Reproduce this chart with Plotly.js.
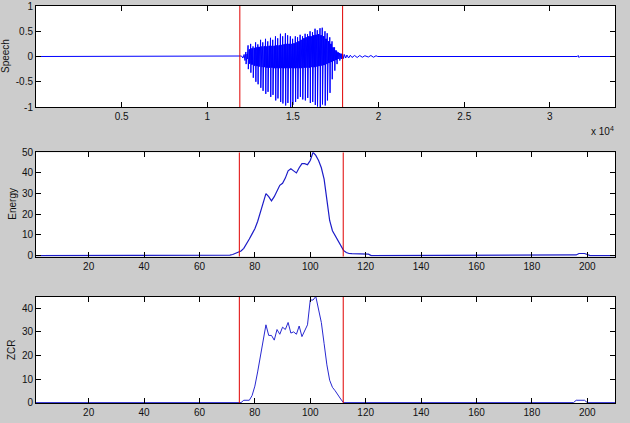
<!DOCTYPE html>
<html>
<head>
<meta charset="utf-8">
<script src="https://cdn.plot.ly/plotly-3.0.1.min.js"></script>
<style>
html,body{margin:0;padding:0;background:#cccccc;}
#chart{width:630px;height:423px;}
</style>
</head>
<body>
<div id="chart"></div>
<script>
// ---------------- data ----------------
// Speech waveform (sample index, amplitude)
const speechLength = 33800;
const onsetSample = [12000, 12080, 12150, 12200];
const onsetAmp    = [0.01, -0.03, 0.04, -0.08];
const pulseSample = [12250,12380,12530,12670,12820,12950,13110,13240,13400,13530,
                     13690,13820,13980,14110,14270,14400,14560,14690,14850,14980,
                     15140,15270,15420,15560,15710,15850,16000,16140,16290,16420,
                     16580,16710,16870,17000,17150,17280,17430,17560,17720];
const pulseHigh   = [0.09,0.22,0.25,0.2,0.28,0.24,0.33,0.28,0.35,0.3,
                     0.37,0.33,0.4,0.36,0.45,0.4,0.46,0.42,0.4,0.35,
                     0.4,0.38,0.43,0.4,0.45,0.44,0.5,0.48,0.55,0.52,
                     0.56,0.57,0.5,0.46,0.38,0.3,0.18,0.1,0.07];
const pulseLow    = [-0.15,-0.25,-0.32,-0.42,-0.5,-0.55,-0.62,-0.68,-0.74,-0.7,
                     -0.8,-0.76,-0.87,-0.83,-0.9,-0.93,-0.97,-0.92,-1.0,-0.96,
                     -0.9,-0.84,-0.8,-0.85,-0.87,-0.82,-0.92,-0.9,-0.96,-0.99,
                     -1.0,-0.95,-0.97,-0.87,-0.72,-0.45,-0.28,-0.15,-0.08];
const coreHigh    = [0.05,0.14,0.16,0.17,0.18,0.19,0.2,0.2,0.2,0.21,
                     0.21,0.21,0.22,0.22,0.23,0.24,0.25,0.25,0.25,0.26,
                     0.28,0.3,0.33,0.36,0.38,0.4,0.4,0.42,0.43,0.44,
                     0.42,0.4,0.35,0.3,0.25,0.18,0.12,0.08,0.05];
const coreLow     = [-0.05,-0.14,-0.16,-0.18,-0.19,-0.2,-0.21,-0.21,-0.22,-0.22,
                     -0.22,-0.23,-0.23,-0.23,-0.23,-0.23,-0.23,-0.23,-0.23,-0.23,
                     -0.23,-0.23,-0.23,-0.22,-0.22,-0.22,-0.21,-0.21,-0.2,-0.19,
                     -0.18,-0.17,-0.15,-0.13,-0.11,-0.09,-0.07,-0.05,-0.04];
const tailSample  = [17800,17850,17900,17950,18000,18080,18150,18250,18350,18450,
                     18600,18750,18900,19050,19200,19400,19550,19700,19850,19950];
const tailAmp     = [0.06,-0.05,0.05,-0.04,0.04,-0.03,0.03,-0.03,0.025,-0.02,
                     0.02,-0.02,0.02,-0.015,0.015,-0.01,0.02,-0.015,0.015,0];
const blipSample  = [31650, 31700, 31750];
const blipAmp     = [0.02, -0.02, 0];
const speechBounds = [11900, 17900];

// Short-time energy per frame
const energyFrame = [1,70,71,72,73,74,75,76,77,78,79,80,81,82,83,84,85,86,87,88,89,90,
                     91,92,93,94,95,96,97,98,99,100,101,102,103,104,105,106,107,108,109,110,
                     111,112,113,114,115,116,117,118,119,120,121,122,195,196,197,198,199,200,201,210];
const energyValue = [0,0,0.2,0.5,1.0,1.5,2.2,3.5,5.5,8,10.5,13,16.5,21,25.5,30,28.5,26.5,28.5,31.5,34,35,
                     37.5,41,42,41,40,42.5,44.5,44.5,44,46,50,48.5,46,42.5,37,27,17,12,9.5,7,
                     4.5,2.5,1.5,1.0,0.9,0.9,0.8,0.8,0.8,0.8,0.7,0,0,0.3,1,1,1,0.5,0,0];

// Zero-crossing rate per frame
const zcrFrame = [1,75,76,77,78,79,80,81,82,83,84,85,86,87,88,89,90,91,92,93,94,95,96,97,98,99,
                  100,101,102,103,104,105,106,107,108,109,110,111,112,195,196,197,198,199,200,210];
const zcrValue = [0,0,1,1,1,3,7,13,19.5,26,33,28.5,28.5,26.5,31,29,32,31,34,29.5,30,29,32.5,28,30.5,33,
                  43.5,43.5,45,40,34,25,16,9.5,6.5,5,3,1.5,0,0,1,1,1,1,0,0];
const frameBounds = [74.4, 111.9];

// Tick labels
const speechTickVals = [5000,10000,15000,20000,25000,30000];
const speechTickText = ['0.5','1','1.5','2','2.5','3'];
const ampTickVals = [-1,-0.5,0,0.5,1];
const ampTickText = ['-1','-0.5','0','0.5','1'];
const frameTicks = [20,40,60,80,100,120,140,160,180,200];

// ---------------- build speech trace ----------------
const sx = [1], sy = [0];
onsetSample.forEach((s,i)=>{sx.push(s); sy.push(onsetAmp[i]);});
pulseSample.forEach((p,i)=>{
  sx.push(p); sy.push(pulseHigh[i]);
  sx.push(p+15); sy.push(pulseLow[i]);
  for (let k=0;k<3;k++){
    sx.push(p+40+k*30); sy.push(coreHigh[i]);
    sx.push(p+55+k*30); sy.push(coreLow[i]);
  }
});
tailSample.forEach((s,i)=>{sx.push(s); sy.push(tailAmp[i]);});
sx.push(31600); sy.push(0);
blipSample.forEach((s,i)=>{sx.push(s); sy.push(blipAmp[i]);});
sx.push(speechLength); sy.push(0);

const blue = '#0000ff';
const red = '#e00000';
const font = {family:'Liberation Sans, Arial, sans-serif', size:10, color:'#111111'};

function vline(x, xa, ya, y0, y1){
  return {x:[x,x], y:[y0,y1], xaxis:xa, yaxis:ya, mode:'lines',
          line:{color:red, width:1}, hoverinfo:'skip', showlegend:false};
}

const traces = [
  {x:sx, y:sy, xaxis:'x', yaxis:'y', mode:'lines', line:{color:blue, width:1}, showlegend:false},
  vline(speechBounds[0],'x','y',-1,1), vline(speechBounds[1],'x','y',-1,1),
  {x:energyFrame, y:energyValue, xaxis:'x2', yaxis:'y2', mode:'lines', line:{color:'#1c1cc8', width:1.2}, showlegend:false},
  vline(frameBounds[0],'x2','y2',-1,50), vline(frameBounds[1],'x2','y2',-1,50),
  {x:zcrFrame, y:zcrValue, xaxis:'x3', yaxis:'y3', mode:'lines', line:{color:'#2828d0', width:1}, showlegend:false},
  vline(frameBounds[0],'x3','y3',-1,45), vline(frameBounds[1],'x3','y3',-1,45)
];

const W=630, H=423;
const xd = [36/W, 615/W];
function yd(top,bottom){ return [1-bottom/H, 1-top/H]; }
const axBase = {showline:true, linecolor:'#000', linewidth:1, mirror:'ticks', ticks:'inside',
  ticklen:5, tickcolor:'#000', tickwidth:1, showgrid:false, zeroline:false, tickfont:font, fixedrange:true};

const layout = {
  width:W, height:H, margin:{l:0,r:0,t:0,b:0},
  paper_bgcolor:'#cccccc', plot_bgcolor:'#ffffff',
  font:font, showlegend:false,
  xaxis: Object.assign({}, axBase, {domain:xd, anchor:'y', range:[1,speechLength],
          tickmode:'array', tickvals:speechTickVals, ticktext:speechTickText}),
  yaxis: Object.assign({}, axBase, {domain:yd(6,107), anchor:'x', range:[-1,1],
          tickmode:'array', tickvals:ampTickVals, ticktext:ampTickText}),
  xaxis2: Object.assign({}, axBase, {domain:xd, anchor:'y2', range:[1,210],
          tickmode:'array', tickvals:frameTicks}),
  yaxis2: Object.assign({}, axBase, {domain:yd(152.3,256.6), anchor:'x2', range:[-0.5,50],
          tickmode:'array', tickvals:[0,10,20,30,40,50]}),
  xaxis3: Object.assign({}, axBase, {domain:xd, anchor:'y3', range:[1,210],
          tickmode:'array', tickvals:frameTicks}),
  yaxis3: Object.assign({}, axBase, {domain:yd(297,403.2), anchor:'x3', range:[-0.25,44.8],
          tickmode:'array', tickvals:[0,10,20,30,40]}),
  annotations:[
    {text:'Speech', xref:'paper', yref:'paper', x:6/W, y:1-56/H, textangle:-90, showarrow:false, font:font, xanchor:'center', yanchor:'middle'},
    {text:'Energy', xref:'paper', yref:'paper', x:11.7/W, y:1-204/H, textangle:-90, showarrow:false, font:font, xanchor:'center', yanchor:'middle'},
    {text:'ZCR', xref:'paper', yref:'paper', x:11/W, y:1-350/H, textangle:-90, showarrow:false, font:font, xanchor:'center', yanchor:'middle'},
    {text:'x 10<sup>4</sup>', xref:'paper', yref:'paper', x:616/W, y:1-131/H, showarrow:false, font:font, xanchor:'right', yanchor:'middle'}
  ]
};

Plotly.newPlot('chart', traces, layout, {staticPlot:true, displayModeBar:false});
</script>
</body>
</html>
